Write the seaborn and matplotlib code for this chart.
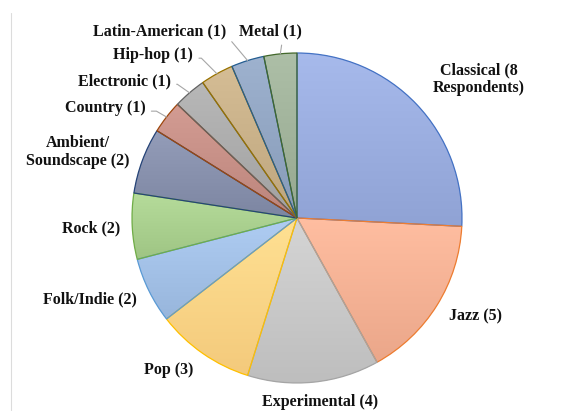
import numpy as np
import matplotlib
matplotlib.use('Agg')
import matplotlib.pyplot as plt
import matplotlib.colors as mcolors
from matplotlib.patches import Wedge
from matplotlib.lines import Line2D
import seaborn as sns

# Data
genres = ['Classical (8\nRespondents)', 'Jazz (5)', 'Experimental (4)', 'Pop (3)',
          'Folk/Indie (2)', 'Rock (2)', 'Ambient/\nSoundscape (2)', 'Country (1)',
          'Electronic (1)', 'Hip-hop (1)', 'Latin-American (1)', 'Metal (1)']
counts = [8, 5, 4, 3, 2, 2, 2, 1, 1, 1, 1, 1]

# Excel-like fill / edge colours
fills = ['#9AADDF', '#F5B194', '#C8C8C8', '#FED486', '#A2C0E6', '#A9CF8E',
         '#8790AC', '#C68F86', '#ABABAB', '#C8B088', '#91A5C2', '#A0B29A']
edges = ['#4472C4', '#ED7D31', '#A5A5A5', '#FFC000', '#5B9BD5', '#70AD47',
         '#264478', '#9E480E', '#636363', '#997300', '#255E91', '#43682B']

# label placement (data units, pie radius = 1)
label_pos = [(1.103, 0.842), (1.079, -0.594), (0.139, -1.115), (-0.776, -0.921),
             (-1.255, -0.491), (-1.248, -0.061), (-1.327, 0.40), (-1.164, 0.667),
             (-1.048, 0.83), (-0.873, 0.988), (-0.830, 1.133), (-0.164, 1.133)]
# leader lines: (relpos on label box, connection style) or None
leaders = [None] * 7 + [
    ((1, 0.3), 'angle,angleA=0,angleB=-30,rad=0'),
    ((1, 0.3), 'angle,angleA=0,angleB=-35,rad=0'),
    ((1, 0.3), 'angle,angleA=0,angleB=-45,rad=0'),
    ((1, 0.1), 'angle,angleA=0,angleB=-50,rad=0'),
    ((0.7, 0.0), 'arc3,rad=0'),
]

sns.set_theme(style='white')
plt.rcParams['font.family'] = ['Liberation Serif', 'DejaVu Serif']

fig = plt.figure(figsize=(5.79, 4.12), dpi=100)
ax = fig.add_axes([0.2223, 0.0624, 0.5813, 0.817])

# faint frame line on the left edge of the reference
fig.add_artist(Line2D([11 / 579, 11 / 579], [0.005, 399 / 412],
                      color='#dcdcdc', lw=0.8))

wedges, _ = ax.pie(counts, startangle=90, counterclock=False, colors=fills,
                   wedgeprops=dict(linewidth=0))
for w, fc, ec in zip(wedges, fills, edges):
    # vertical gradient inside each wedge (lighter at top)
    base = np.array(mcolors.to_rgb(fc))
    light = np.clip(base + 0.05, 0, 1)
    dark = np.clip(base - 0.04, 0, 1)
    grad = np.linspace(0, 1, 100)[:, None, None]
    img = light * (1 - grad) + dark * grad
    ang = np.linspace(np.deg2rad(w.theta1), np.deg2rad(w.theta2), 50)
    xs = np.concatenate([[0], np.cos(ang)])
    ys = np.concatenate([[0], np.sin(ang)])
    im = ax.imshow(img, extent=[xs.min(), xs.max(), ys.min(), ys.max()],
                   origin='upper', aspect='auto', zorder=2)
    im.set_clip_path(w)
    ax.add_patch(Wedge((0, 0), 1, w.theta1, w.theta2, fill=False,
                       edgecolor=ec, linewidth=0.9, zorder=3))

for i, (lab, (tx, ty)) in enumerate(zip(genres, label_pos)):
    if leaders[i] is not None:
        rel, cstyle = leaders[i]
        w = wedges[i]
        mid = np.deg2rad((w.theta1 + w.theta2) / 2)
        ax.annotate(lab, xy=(np.cos(mid), np.sin(mid)), xytext=(tx, ty),
                    ha='center', va='center', fontsize=11.5, fontweight='bold',
                    color='#111111',
                    arrowprops=dict(arrowstyle='-', color='#a6a6a6', lw=0.8,
                                    relpos=rel, shrinkA=2, shrinkB=0,
                                    connectionstyle=cstyle))
    else:
        ax.text(tx, ty, lab, ha='center', va='center', fontsize=11.5,
                fontweight='bold', color='#111111', linespacing=1.1)

ax.set_xlim(-1.02, 1.02)
ax.set_ylim(-1.02, 1.02)
ax.set_aspect('equal')
ax.axis('off')

fig.savefig('out.png', dpi=100, facecolor='white')
